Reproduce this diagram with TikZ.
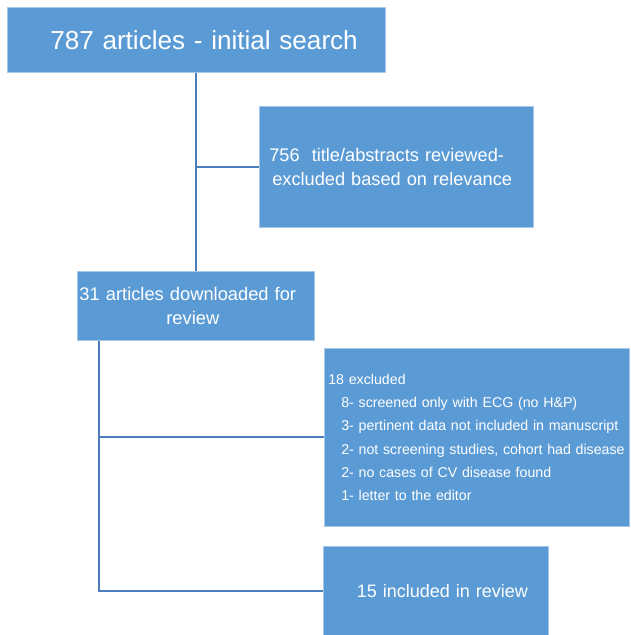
\documentclass[tikz,border=0pt]{standalone}
\usepackage{fontspec}
\setmainfont{Liberation Sans}
\usetikzlibrary{positioning}
\definecolor{boxblue}{RGB}{91,155,213}
\definecolor{linkblue}{RGB}{74,126,187}

\begin{document}
\begin{tikzpicture}[x=1pt,y=-1pt]
\tikzset{box/.style={fill=boxblue,draw=boxblue!55!white,line width=0.6pt,text=white,inner sep=0pt,anchor=north west,align=left},
  link/.style={draw=linkblue,line width=1.8pt}}
\useasboundingbox (0,0) rectangle (630,635);
\node[box,text width=378pt,minimum height=65pt,font=\fontsize{26.1}{30}\selectfont] (search) at (7,7) {\hspace*{43pt}787 articles - initial search};
\node[box,text width=274pt,minimum height=121pt,font=\fontsize{18.2}{24}\selectfont] (screen) at (259,106) {\hspace*{10pt}756\ \ title/abstracts reviewed-\\\hspace*{13pt}excluded based on relevance};
\node[box,text width=237pt,minimum height=69pt,align=center,font=\fontsize{18.3}{24}\selectfont] (download) at (77,271) {\hspace*{-16pt}31 articles downloaded for\\\hspace*{-6pt}review};
\node[box,text width=305pt,minimum height=178pt,font=\fontsize{14.2}{23.3}\selectfont] (excl) at (324,348) {\hspace*{4pt}18 excluded\\
  \mbox{\hspace*{17pt}8- screened only with ECG (no H\&P)}\\
  \mbox{\hspace*{17pt}3- pertinent data not included in manuscript}\\
  \mbox{\hspace*{17pt}2- not screening studies, cohort had disease}\\
  \mbox{\hspace*{17pt}2- no cases of CV disease found}\\
  \mbox{\hspace*{17pt}1- letter to the editor}};
\node[box,text width=225pt,minimum height=89pt,align=center,font=\fontsize{18}{24}\selectfont] (incl) at (323,546) {\hspace*{13pt}15 included in review};
% connectors
\coordinate (trunk) at ([xshift=22pt]download.south west);
\draw[link] (search.south) -- (search.south |- download.north);
\draw[link] (search.south |- screen.west) -- (screen.west);
\draw[link] (trunk) |- (incl.west);
\draw[link] (trunk |- excl.west) -- (excl.west);
\end{tikzpicture}
\end{document}
